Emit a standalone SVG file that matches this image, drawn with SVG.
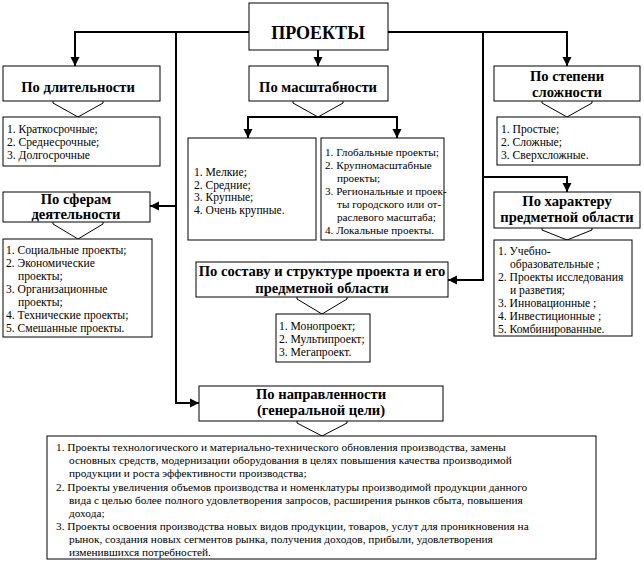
<svg xmlns="http://www.w3.org/2000/svg" width="644" height="563" viewBox="0 0 644 563">
<style>
.box{fill:#fff;stroke:#000;stroke-width:1}
.h{font-family:"Liberation Serif","Times New Roman",serif;font-weight:bold;font-size:14.6px;text-anchor:middle;fill:#000}
.t{font-family:"Liberation Serif","Times New Roman",serif;font-size:11.6px;fill:#000}
.t2{font-family:"Liberation Serif","Times New Roman",serif;font-size:11.2px;fill:#000}
.b{font-family:"Liberation Serif","Times New Roman",serif;font-size:11.3px;fill:#000}
.c{fill:none;stroke:#000;stroke-width:2}
.ba{fill:none;stroke:#000;stroke-width:1}
</style>
<defs>
<marker id="ar" markerUnits="userSpaceOnUse" markerWidth="10" markerHeight="10" refX="9" refY="5" orient="auto">
<path d="M0,0.5 L9,5 L0,9.5 Z" fill="#000"/>
</marker>
</defs>
<g id="connectors">
<path class="c" d="M249,32 H75 V66" marker-end="url(#ar)"/>
<path class="c" d="M388,32 H567 V66" marker-end="url(#ar)"/>
<path class="c" d="M318,50 V66" marker-end="url(#ar)"/>
<path class="c" d="M176,32 V403 H199" marker-end="url(#ar)"/>
<path class="c" d="M176,206 H150" marker-end="url(#ar)"/>
<path class="c" d="M483,32 V280 H448" marker-end="url(#ar)"/>
<path class="c" d="M483,177 H567 V192" marker-end="url(#ar)"/>
<path class="c" d="M318,117 H248 V138" marker-end="url(#ar)"/>
<path class="c" d="M318,117 H397 V138" marker-end="url(#ar)"/>
<path class="ba" d="M66,101 V99 H53 V103 L78,117 L103,103 V99 H90 V101"/>
<path class="ba" d="M306,101 V99 H293 V103 L318,117 L343,103 V99 H330 V101"/>
<path class="ba" d="M555,101 V99 H542 V103 L567,117 L592,103 V99 H579 V101"/>
<path class="ba" d="M66,222 V220 H53 V224 L78,239 L103,224 V220 H90 V222"/>
<path class="ba" d="M555,228 V226 H542 V230 L567,240 L592,230 V226 H579 V228"/>
<path class="ba" d="M310,297 V295 H297 V299 L322,314 L347,299 V295 H334 V297"/>
<path class="ba" d="M310,421 V419 H297 V423 L322,436 L347,423 V419 H334 V421"/>
</g>
<g id="root">
<rect class="box" x="249" y="3" width="139" height="47"/>
<text class="h" x="318" y="39" style="font-size:18px">ПРОЕКТЫ</text>
</g>
<g id="duration">
<rect class="box" x="3" y="66" width="157" height="35"/>
<text class="h" x="78" y="92">По длительности</text>
</g>
<g id="duration-list">
<rect class="box" x="3" y="117" width="157" height="49"/>
<text class="t" x="7" y="133">1. Краткосрочные;</text>
<text class="t" x="7" y="146">2. Среднесрочные;</text>
<text class="t" x="7" y="159">3. Долгосрочные</text>
</g>
<g id="scale">
<rect class="box" x="249" y="66" width="139" height="35"/>
<text class="h" x="318" y="92">По масштабности</text>
</g>
<g id="scale-list-1">
<rect class="box" x="188" y="138" width="128" height="102"/>
<text class="t" x="194" y="176">1. Мелкие;</text>
<text class="t" x="194" y="189">2. Средние;</text>
<text class="t" x="194" y="201">3. Крупные;</text>
<text class="t" x="194" y="214">4. Очень крупные.</text>
</g>
<g id="scale-list-2">
<rect class="box" x="321" y="138" width="123" height="102"/>
<text class="t2" x="325" y="156">1. Глобальные проекты;</text>
<text class="t2" x="325" y="169">2. Крупномасштабные</text>
<text class="t2" x="337" y="182">проекты;</text>
<text class="t2" x="325" y="195">3. Региональные и проек-</text>
<text class="t2" x="337" y="208">ты городского или  от-</text>
<text class="t2" x="337" y="221">раслевого масштаба;</text>
<text class="t2" x="325" y="234">4. Локальные проекты.</text>
</g>
<g id="complexity">
<rect class="box" x="494" y="66" width="146" height="35"/>
<text class="h" x="567" y="81">По степени</text>
<text class="h" x="567" y="97">сложности</text>
</g>
<g id="complexity-list">
<rect class="box" x="497" y="117" width="143" height="48"/>
<text class="t" x="501" y="133">1. Простые;</text>
<text class="t" x="501" y="146">2. Сложные;</text>
<text class="t" x="501" y="159">3. Сверхсложные.</text>
</g>
<g id="spheres">
<rect class="box" x="3" y="192" width="147" height="30"/>
<text class="h" x="76" y="204">По сферам</text>
<text class="h" x="76" y="219">деятельности</text>
</g>
<g id="spheres-list">
<rect class="box" x="3" y="239" width="149" height="98"/>
<text class="t" x="6" y="254">1. Социальные проекты;</text>
<text class="t" x="6" y="267">2. Экономические</text>
<text class="t" x="18" y="280">проекты;</text>
<text class="t" x="6" y="293">3. Организационные</text>
<text class="t" x="18" y="306">проекты;</text>
<text class="t" x="6" y="319">4. Технические проекты;</text>
<text class="t" x="6" y="332">5. Смешанные проекты.</text>
</g>
<g id="subject">
<rect class="box" x="494" y="192" width="146" height="36"/>
<text class="h" x="567" y="206">По характеру</text>
<text class="h" x="567" y="222">предметной области</text>
</g>
<g id="subject-list">
<rect class="box" x="494" y="240" width="138" height="96"/>
<text class="t" x="498" y="255">1. Учебно-</text>
<text class="t" x="510" y="268">образовательные ;</text>
<text class="t" x="498" y="281">2. Проекты исследования</text>
<text class="t" x="510" y="294">и разветия;</text>
<text class="t" x="498" y="307">3. Инновационные ;</text>
<text class="t" x="498" y="320">4. Инвестиционные ;</text>
<text class="t" x="498" y="333">5. Комбинированные.</text>
</g>
<g id="structure">
<rect class="box" x="196" y="262" width="252" height="35"/>
<text class="h" x="322" y="276">По составу и структуре проекта и его</text>
<text class="h" x="322" y="293">предметной области</text>
</g>
<g id="structure-list">
<rect class="box" x="276" y="314" width="94" height="48"/>
<text class="t" x="279" y="330">1. Монопроект;</text>
<text class="t" x="279" y="343">2. Мультипроект;</text>
<text class="t" x="279" y="356">3. Мегапроект.</text>
</g>
<g id="direction">
<rect class="box" x="199" y="386" width="244" height="35"/>
<text class="h" x="321" y="399">По направленности</text>
<text class="h" x="321" y="415">(генеральной цели)</text>
</g>
<g id="direction-list">
<rect class="box" x="47" y="436" width="549" height="123"/>
<text class="b" x="56" y="451">1. Проекты технологического и материально-технического обновления производства, замены</text>
<text class="b" x="69" y="464">основных средств, модернизации оборудования в целях повышения качества производимой</text>
<text class="b" x="69" y="477">продукции и роста эффективности производства;</text>
<text class="b" x="56" y="491">2. Проекты увеличения объемов производства и номенклатуры производимой продукции данного</text>
<text class="b" x="69" y="504">вида с целью более полного удовлетворения запросов, расширения рынков сбыта, повышения</text>
<text class="b" x="69" y="517">дохода;</text>
<text class="b" x="56" y="530">3. Проекты освоения производства новых видов продукции, товаров, услут для проникновения на</text>
<text class="b" x="69" y="543">рынок, создания новых сегментов рынка, получения доходов, прибыли, удовлетворения</text>
<text class="b" x="69" y="556">изменившихся потребностей.</text>
</g>
</svg>
